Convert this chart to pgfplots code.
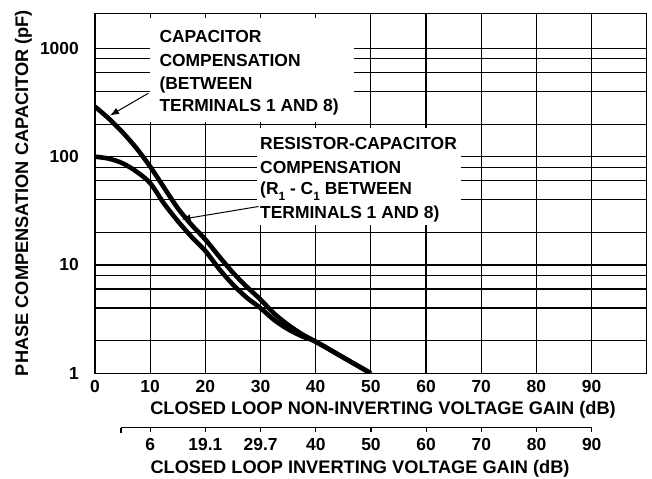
\documentclass[border=0pt]{standalone}
\usepackage{fontspec}
\setmainfont{Liberation Sans}
\usepackage{pgfplots}
\pgfplotsset{compat=1.18}
\usetikzlibrary{arrows.meta}

\newcommand\lblfont{\fontsize{18.27}{21}\selectfont\bfseries}
\newcommand\txtfont{\fontsize{17.5}{20}\selectfont\bfseries}
\newcommand\subone{\raisebox{-0.3em}{\fontsize{12}{12}\selectfont 1}}

\begin{document}
\begin{tikzpicture}[x=1bp,y=1bp]
\useasboundingbox (0,0) rectangle (652,479);

\begin{axis}[
  at={(95bp,105.7bp)}, anchor=south west,
  scale only axis, width=551.7bp, height=360bp,
  xmin=0, xmax=100, ymode=log, ymin=1, ymax=2110,
  xtick={0,10,...,90},
  ytick={1,10,100,1000}, yticklabels={1,10,100,1000},
  minor ytick={2,4,6,8,20,40,60,80,200,400,600,800},
  grid=both,
  major grid style={black, line width=1.2bp},
  minor grid style={black, line width=1.2bp},
  major tick length=0pt, minor tick length=0pt,
  axis line style={line width=1.3bp},
  /pgf/number format/assume math mode=true,
  ticklabel style={font=\txtfont, inner sep=0pt},
  xticklabel style={yshift=-6.7bp},
  yticklabel style={xshift=-16bp},
]
% capacitor compensation
\addplot[black, line width=4.6bp, smooth] coordinates {
 (0,290) (2.5,225) (5,168) (7.5,120) (10,81) (12.5,52) (15,33.5) (17.5,23.5)
 (20,17.2) (22.5,12) (25,8.5) (27.5,6.3) (30,4.8) (32.5,3.55) (35,2.8)
 (37.5,2.3) (40,1.96) (45,1.4) (50,1.0)
};
% resistor-capacitor compensation
\addplot[black, line width=4.6bp, smooth] coordinates {
 (0,100) (2.5,96) (5,87) (7.5,73) (10,57) (12.5,37) (15,25.5) (17.5,18.2)
 (20,13.5) (22.5,9.2) (25,6.6) (27.5,5.0) (30,4.0) (32.5,3.1) (35,2.55)
 (37.5,2.2) (40,1.96) (45,1.4) (50,1.0)
};
\end{axis}

% second (inverting gain) scale
\begin{axis}[
  at={(121bp,51.3bp)}, anchor=south west,
  scale only axis, width=470.7bp, height=1bp,
  xmin=4.71, xmax=90, ymin=0, ymax=1,
  hide y axis, axis x line*=bottom, x axis line style={-, line width=1.3bp},
  xtick={10,20,...,90},
  xticklabels={6,19.1,29.7,40,50,60,70,80,90},
  extra x ticks={4.71}, extra x tick labels={},
  extra x tick style={major tick length=5.6bp},
  tick align=outside, major tick length=4bp,
  tick style={black, line width=1.2bp},
  ticklabel style={font=\txtfont, inner sep=0pt},
  xticklabel style={yshift=-6bp},
]
\end{axis}

% axis titles
\node[font=\lblfont, anchor=base] at (383,64) {CLOSED LOOP NON-INVERTING VOLTAGE GAIN (dB)};
\node[font=\lblfont, anchor=base] at (360,5) {CLOSED LOOP INVERTING VOLTAGE GAIN (dB)};
\node[font=\lblfont, anchor=base, rotate=90] at (28,286) {PHASE COMPENSATION CAPACITOR (pF)};

% annotation boxes
\fill[white] (150,357) rectangle (354,461);
\fill[white] (257,254) rectangle (461,351);
\begin{scope}[every node/.style={font=\txtfont, anchor=base west, inner sep=0pt}]
\node at (159.3,436.3) {CAPACITOR};
\node at (159.3,412.3) {COMPENSATION};
\node at (159.3,389) {(BETWEEN};
\node at (159.3,367.3) {TERMINALS 1 AND 8)};
\node at (260,329.7) {RESISTOR-CAPACITOR};
\node at (260,305.7) {COMPENSATION};
\node at (260,284) {(R\subone\ - C\subone\ BETWEEN};
\node at (260,260.7) {TERMINALS 1 AND 8)};
\end{scope}

% arrows
\draw[line width=1bp, -{Latex[length=9bp,width=7bp]}] (148.3,385.7) -- (110,363.5);
\draw[line width=1bp, -{Latex[length=9bp,width=7bp]}] (258.5,272.5) -- (181.5,259.7);
\end{tikzpicture}
\end{document}
